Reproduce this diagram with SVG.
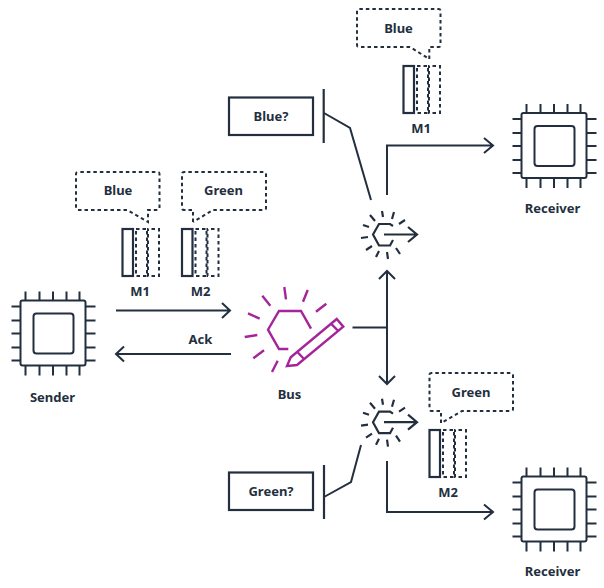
<svg xmlns="http://www.w3.org/2000/svg" xmlns:xlink="http://www.w3.org/1999/xlink" width="604" height="588" viewBox="0 0 604 588">
<style>
.l{fill:none;stroke:#232f3e;stroke-width:2}
.s{fill:none;stroke:#232f3e;stroke-width:2.200}
.d{fill:none;stroke:#232f3e;stroke-width:2;stroke-dasharray:3.500 3}
.p{fill:none;stroke:#a4259b;stroke-width:2.400}
text{font-family:"Noto Sans","Open Sans",sans-serif;font-weight:700;font-size:13px;fill:#232f3e;text-anchor:middle}
</style>
<defs>
<g id="chip">
<rect class="l" x="0" y="0" width="65" height="65" rx="2"/>
<rect class="l" x="13" y="13" width="40" height="40" rx="3"/>
<path class="l" d="M5-9V0M19-9V0M32.500-9V0M46-9V0M59-9V0M5 65V75M19 65V75M32.500 65V75M46 65V75M59 65V75M-9 6H0M-9 20H0M-9 33H0M-9 47H0M-9 60H0M65 6H75M65 20H75M65 33H75M65 47H75M65 60H75"/>
</g>
<g id="filter">
<path class="s" d="M393 226L390 224H379L373 234.500L379 245.500H390L393 240M384 234.500H417M408 227L417 234.500L408 242M382 211L383 217M394 212L392 219M405 220L399 224M361 238L368 237M363 225L369 227M370 215L375 221M366 250L372 246M376 257L379 251M388 259L387 252M400 254L396 248"/>
</g>
<g id="msg">
<rect class="s" x="0" y="0" width="10.500" height="47"/>
<rect class="d" x="13.500" y="0" width="11" height="47"/>
<rect class="d" x="25.500" y="0" width="11" height="47" stroke-dashoffset="3"/>
</g>
</defs>
<g id="connectors">
<path class="l" d="M116 310.500H230M222 303L230 310.500L222 318"/>
<path class="l" d="M231 354H116M124 346.500L116 354L124 361.500"/>
<path class="l" d="M352.500 327.500H387M387 272V384M379 279L387 271L395 279M379 376L387 384L395 376"/>
<path class="l" d="M387 195V145.500H493M484 138L493 145.500L484 153"/>
<path class="l" d="M387 461V512H493M484 504.500L493 512L484 519.500"/>
<path class="l" d="M324 113L350 128L371 200"/>
<path class="l" d="M324 497L351 482L361 445"/>
</g>
<g id="sender"><use xlink:href="#chip" href="#chip" x="20.500" y="300.500"/><text x="52.500" y="402">Sender</text></g>
<g id="receiver-top"><use xlink:href="#chip" href="#chip" x="521.500" y="113"/><text x="552.500" y="213">Receiver</text></g>
<g id="receiver-bottom"><use xlink:href="#chip" href="#chip" x="521.500" y="476.500"/><text x="552.500" y="576">Receiver</text></g>
<g id="bus">
<path class="p" d="M311 328.700L301 311H279L268 329.700L279 349H288.300M284.300 287L286 299.300M307.700 290L303 301.700M326.300 303.700L316 311.700M262.300 295.700L270.300 305.700M248 313.300L259.700 318.700M244.700 337L257.300 335M253.300 358.300L264 350.300M272 372L277.700 360.700"/>
<path class="p" d="M287 366L297 365L343.300 326.700L336.700 319L290.700 357.300ZM296.700 351.300L303.300 358.300M331 323.700L338.300 331"/>
<text x="289.500" y="399">Bus</text>
</g>
<g id="filter-top"><use xlink:href="#filter" href="#filter"/></g>
<g id="filter-bottom"><use xlink:href="#filter" href="#filter" y="187.700"/></g>
<g id="topic-blue">
<rect class="s" x="229" y="97.500" width="84" height="37.500"/>
<path class="s" d="M323.700 89V143"/>
<text x="271" y="120.500">Blue?</text>
</g>
<g id="topic-green">
<rect class="s" x="229" y="472.500" width="84" height="37.500"/>
<path class="s" d="M324 465V519"/>
<text x="271" y="495.500">Green?</text>
</g>
<g id="bubble-blue-sender">
<path class="d" d="M127 210H78Q76 210 76 208V174Q76 172 78 172H157.500Q159.500 172 159.500 174V208Q159.500 210 157.500 210H148V222L127 210"/>
<text x="118" y="195">Blue</text>
</g>
<g id="bubble-green-sender">
<path class="d" d="M193 222V210H184Q182 210 182 208V174Q182 172 184 172H264Q266 172 266 174V208Q266 210 264 210H213L193 222"/>
<text x="223.500" y="195">Green</text>
</g>
<g id="bubble-blue-receiver">
<path class="d" d="M410 47H359Q357 47 357 45V11Q357 9 359 9H438.500Q440.500 9 440.500 11V45Q440.500 47 438.500 47H429.300V59L410 47"/>
<text x="398.500" y="32.500">Blue</text>
</g>
<g id="bubble-green-receiver">
<path class="d" d="M441 423V411H431.500Q429.500 411 429.500 409V375Q429.500 373 431.500 373H511Q513 373 513 375V409Q513 411 511 411H462L441 423"/>
<text x="471" y="396.500">Green</text>
</g>
<g id="m1-sender"><use xlink:href="#msg" href="#msg" x="122.500" y="229"/><text x="140" y="296">M1</text></g>
<g id="m2-sender"><use xlink:href="#msg" href="#msg" x="182" y="229"/><text x="200.500" y="296">M2</text></g>
<g id="m1-receiver"><use xlink:href="#msg" href="#msg" x="403.500" y="66"/><text x="421" y="133">M1</text></g>
<g id="m2-receiver"><use xlink:href="#msg" href="#msg" x="429.500" y="430"/><text x="448" y="497">M2</text></g>
<text id="ack" x="200.500" y="344">Ack</text>
</svg>
